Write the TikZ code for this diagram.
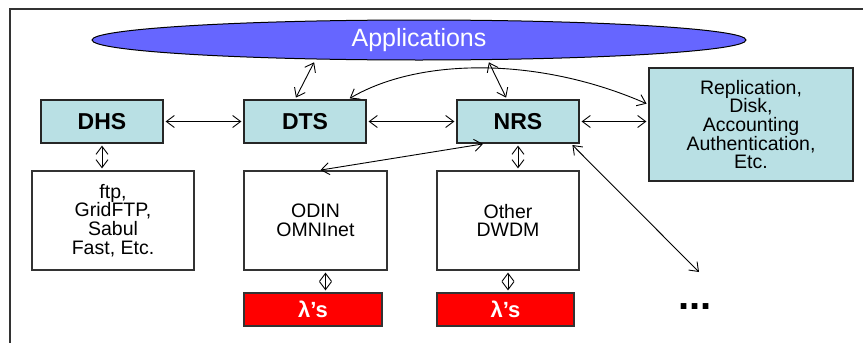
\documentclass[tikz,border=0pt]{standalone}
\usepackage{fontspec}
\setmainfont{Liberation Sans}
\usetikzlibrary{shapes.geometric,arrows.meta}
\definecolor{appblue}{RGB}{102,102,255}
\definecolor{svccyan}{RGB}{185,224,228}
\newcommand{\boxfont}{\fontsize{19.5}{18.8}\selectfont}
\newcommand{\svcfont}{\fontsize{23}{23}\selectfont\bfseries}

\begin{document}
\begin{tikzpicture}[x=1pt, y=-1pt,
	svc/.style={draw=black!85, line width=1.2pt, fill=svccyan, inner sep=0pt, font=\svcfont},
	plain/.style={draw=black!80, line width=1.2pt, fill=white, inner sep=0pt, align=center, font=\boxfont},
	lam/.style={draw=black!80, line width=1.2pt, fill=red, text=white, inner sep=0pt, minimum height=33pt, font=\fontsize{22}{22}\selectfont\bfseries},
	link/.style={<->, line width=0.9pt, shorten >=2pt, shorten <=2pt},
	>={Straight Barb[length=8pt,width=12pt]}]

	\useasboundingbox (0,0) rectangle (863,343);

	%frame
	\draw[line width=1.6pt, black!80] (10,343) -- (10,9) -- (863,9);

	%applications
	\node[ellipse, draw=black, line width=1pt, fill=appblue, minimum width=654pt, minimum height=40pt, inner sep=0pt,
		text=white, font=\fontsize{25}{25}\selectfont] (apps) at (419,40) {Applications};

	%services
	\node[svc, minimum width=122pt, minimum height=43pt] (dhs) at (102,121.5) {DHS};
	\node[svc, minimum width=122pt, minimum height=43pt] (dts) at (305,121.5) {DTS};
	\node[svc, minimum width=122pt, minimum height=43pt] (nrs) at (518,121.5) {NRS};
	\node[svc, minimum width=204pt, minimum height=113pt, align=center, font=\fontsize{19.5}{18.6}\selectfont] (rep) at (751,124.5)
		{Replication,\\Disk,\\Accounting\\Authentication,\\Etc.};

	%transports and networks
	\node[plain, minimum width=162pt, minimum height=99pt] (ftp) at (113,220.5) {ftp,\\GridFTP,\\Sabul\\Fast, Etc.};
	\node[plain, minimum width=143pt, minimum height=99pt] (odin) at (315.5,220.5) {ODIN\\OMNInet};
	\node[plain, minimum width=142pt, minimum height=99pt] (dwdm) at (508,220.5) {Other\\DWDM};
	\node[lam, minimum width=138pt] (lamodin) at (313,309.5) {λ’s};
	\node[lam, minimum width=137pt] (lamdwdm) at (505.5,309.5) {λ’s};

	%more
	\coordinate (more) at (699,272);
	\node[anchor=base, font=\fontsize{40}{40}\selectfont\bfseries] (dots) at (695,309) {...};

	%links
	\draw[link] ([xshift=-104pt]apps.south) -- ([xshift=-10pt]dts.north);
	\draw[link] ([xshift=69pt]apps.south) -- ([xshift=-11pt]nrs.north);
	\draw[link] (dhs.east) -- (dts.west);
	\draw[link] (dts.east) -- (nrs.west);
	\draw[link] (nrs.east) -- (nrs.east -| rep.west);
	\draw[link] ([xshift=43pt]dts.north) .. controls (420,57) and (540,57) .. ([yshift=20pt]rep.west);
	\draw[link] (dhs.south) -- (dhs.south |- ftp.north);
	\draw[link] (nrs.south) -- (nrs.south |- dwdm.north);
	\draw[link] ([xshift=-33pt]nrs.south) -- ([xshift=3pt]odin.north);
	\draw[link, shorten >=0pt] ([xshift=53pt]nrs.south) -- (more);
	\draw[link] ([xshift=10pt]odin.south) -- ([xshift=10pt]odin.south |- lamodin.north);
	\draw[link] (dwdm.south) -- (dwdm.south |- lamdwdm.north);

\end{tikzpicture}
\end{document}
